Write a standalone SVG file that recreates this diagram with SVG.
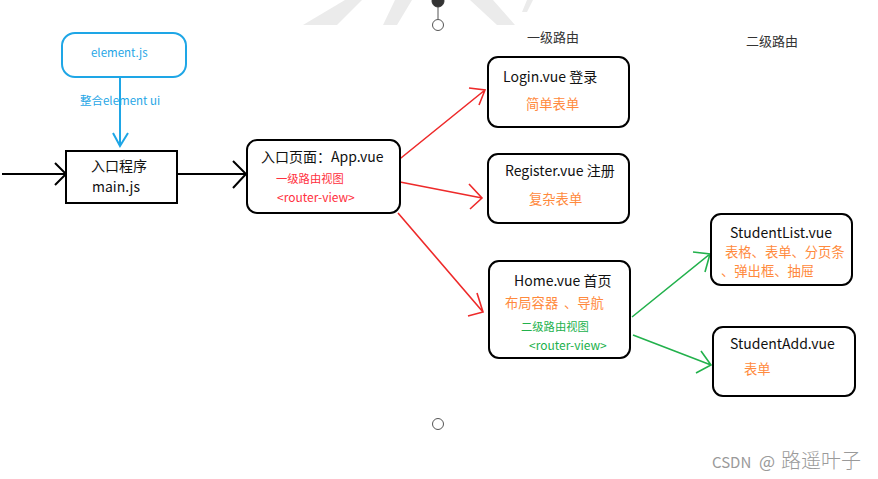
<svg xmlns="http://www.w3.org/2000/svg" width="878" height="479" viewBox="0 0 878 479">
<style>
text{font-family:"Noto Sans CJK SC","Liberation Sans",sans-serif;}
.box{fill:#fff;stroke:#000;stroke-width:2;}
.t{font-size:14px;fill:#111;}
.red{font-size:11.3px;fill:#ff3040;}
.or{font-size:13.3px;fill:#ff8a3d;}
.gr{font-size:11.3px;fill:#22b14c;}
.rv{font-size:12px;}
.bl{font-size:11.5px;fill:#1ea6e6;}
.hd{font-size:13px;fill:#333;}
.k{fill:none;stroke:#000;stroke-width:2;}
.r{fill:none;stroke:#ee2a2a;stroke-width:1.6;}
.g{fill:none;stroke:#22b14c;stroke-width:1.6;}
.b{fill:none;stroke:#1ea6e6;stroke-width:2;}
</style>
<rect width="878" height="479" fill="#fff"/>
<g id="watermark" fill="#ebebeb">
<polygon points="303,25 337,25 362,0 345,0"/>
<polygon points="383,25 397,25 412,0 395,0"/>
<polygon points="470,0 493,0 515,25 497,25"/>
<polygon points="522,12 527,0 533,0 527,12"/>
</g>
<g id="handles" fill="none" stroke="#555">
<circle cx="438" cy="1" r="6" fill="#333" stroke="#333"/>
<line x1="438" y1="7" x2="438" y2="19"/>
<circle cx="438" cy="25" r="5.5" fill="#fff"/>
<circle cx="438" cy="424" r="5.5" fill="#fff"/>
</g>
<text class="hd" x="527" y="42">一级路由</text>
<text class="hd" x="746" y="46">二级路由</text>
<g id="connectors">
<path class="k" d="M2,174 H65 M55,163 L66,174 L55,185"/>
<path class="k" d="M177,174 H245 M233,161 L246,174 L233,188"/>
<path class="b" d="M120,77 V145 M113,133 L120,146 L128,133"/>
<text class="bl" x="80" y="105">整合element ui</text>
<path class="r" d="M396,162 L485,90 M469,88 L485,90 L479,105"/>
<path class="r" d="M400,182 L482,198 M469,184 L482,198 L470,209"/>
<path class="r" d="M398,213 L483,312 M477,293 L483,312 L468,316"/>
<path class="g" d="M632,317 L710,254 M693,252 L710,254 L705,272"/>
<path class="g" d="M633,335 L711,365 M701,351 L711,365 L696,373"/>
</g>
<g id="element">
<rect x="62" y="33" width="124" height="44" rx="13" fill="#fff" stroke="#1ea6e6" stroke-width="2"/>
<text class="bl" x="91" y="57">element.js</text>
</g>
<g id="main">
<rect class="box" x="66" y="151" width="111" height="52"/>
<text class="t" x="91" y="171">入口程序</text>
<text class="t" x="92" y="192">main.js</text>
</g>
<g id="app">
<rect class="box" x="247" y="140" width="153" height="73" rx="10"/>
<text class="t" x="261" y="162">入口页面：App.vue</text>
<text class="red" x="276" y="183">一级路由视图</text>
<text class="red rv" x="277" y="202">&lt;router-view&gt;</text>
</g>
<g id="login">
<rect class="box" x="488" y="57" width="141" height="70" rx="10"/>
<text class="t" x="503" y="82">Login.vue 登录</text>
<text class="or" x="526" y="109">简单表单</text>
</g>
<g id="register">
<rect class="box" x="488" y="154" width="141" height="69" rx="10"/>
<text class="t" x="505" y="176">Register.vue 注册</text>
<text class="or" x="529" y="204">复杂表单</text>
</g>
<g id="home">
<rect class="box" x="489" y="261" width="141" height="97" rx="10"/>
<text class="t" x="514" y="286">Home.vue 首页</text>
<text class="or" x="505" y="308">布局容器<tspan x="564">、导航</tspan></text>
<text class="gr" x="521" y="331">二级路由视图</text>
<text class="gr rv" x="529" y="350">&lt;router-view&gt;</text>
</g>
<g id="studentlist">
<rect class="box" x="711" y="214" width="141" height="71" rx="10"/>
<text class="t" x="730" y="238">StudentList.vue</text>
<text class="or" x="725" y="257">表格、表单、分页条</text>
<text class="or" x="721" y="276">、弹出框、抽屉</text>
</g>
<g id="studentadd">
<rect class="box" x="713" y="327" width="142" height="69" rx="10"/>
<text class="t" x="730" y="349">StudentAdd.vue</text>
<text class="or" x="744" y="374">表单</text>
</g>
<text x="712" y="468" font-size="15" fill="#9a9a9a" font-family="'Liberation Sans','Noto Sans CJK SC',sans-serif">CSDN <tspan x="759" font-size="17">@</tspan><tspan x="781" font-size="20" font-weight="300" font-family="'Noto Sans CJK SC',sans-serif">路遥叶子</tspan></text>
</svg>
